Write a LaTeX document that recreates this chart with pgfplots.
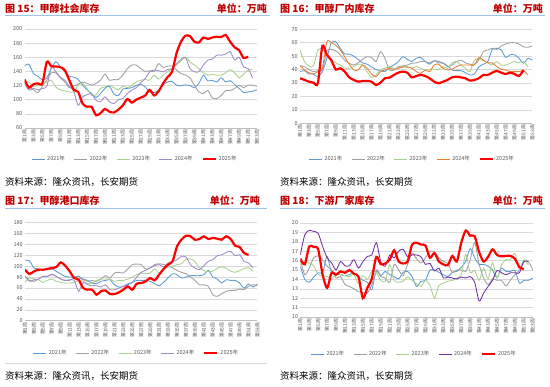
\documentclass[border=0pt]{standalone}
\usepackage{fontspec}
\setmainfont{Noto Sans CJK SC}
\usepackage{pgfplots}
\pgfplotsset{compat=1.18}
\usepackage{pgfplotstable}

\definecolor{c21}{RGB}{91,155,213}
\definecolor{c22}{RGB}{160,160,160}
\definecolor{c23}{RGB}{169,209,142}
\definecolor{c24p}{RGB}{158,140,200}
\definecolor{c24o}{RGB}{237,125,49}
\definecolor{c24d}{RGB}{112,48,160}
\definecolor{titlered}{RGB}{192,0,0}
\definecolor{sepblue}{RGB}{157,195,230}
\definecolor{ticktext}{RGB}{89,89,89}

\pgfplotstableread{
w a21 a22 a23 a24 a25
1 148 125 126 123 128.6
2 150 119 125 113.5 117
3 137 114 119 116 122
4 133 110 120.5 114 123
5 128 119 122 116 123
6 131 128 125 119 153.6
7 144 138 127.6 146.5 147.5
8 153.6 138 118 139.5 147
9 146.5 131 114 132 146
10 139.5 125 112.5 127.6 142
11 133 117 111 119 128
12 132 119 111 112.5 114
13 128.6 122 120.5 92 111
14 120.5 125 123 104 94.5
15 114 123 116 107 90
16 108.7 120.5 106 108.7 90
17 103 123 107 99 78
18 108.7 127.6 116 97 81
19 116 136 118 104 87
20 119 127.6 120.5 97 83
21 108 128.5 117 94.5 82
22 106 128.5 114 100 86
23 115 135 119 101.6 92
24 116 144 117 108.7 101
25 117 149 120.5 113.5 96
26 120 149 125 117 100
27 122 144 127.6 124 103
28 118 140 128.5 130 106
29 111 141 127.6 139.5 114
30 110 140 134.7 142 106
31 113 151 129 141 112
32 121 145.6 134.7 139.5 123
33 125 147.5 139.5 142.7 132
34 126 147.5 144 144 139.5
35 120.5 142 149 151 165.5
36 120 137 154.6 157 182
37 121 135 160 160 190.5
38 120 131 153.6 144 190
39 117 120.5 149 139.5 182
40 123 111 144 139.5 181
41 134.7 108.7 138 149 188
42 126.7 113 134.7 156 186
43 127.6 102.5 135.7 157.4 188
44 125 101.6 134.7 163 189
45 131 106 134.7 163 188.6
46 125 113 138 164.5 191.5
47 127 113 142.7 168 182
48 121.5 116 138 156 174
49 116 120.5 131 160 170
50 110 117 136 146.5 159
51 111 120.5 142 144 161
52 112 120.5 143 131 nan
53 114 119 nan nan nan
}\tabA

\pgfplotstableread{
w a21 a22 a23 a24 a25
1 38.5 43 54.6 42.7 33.5
2 39.2 42 46 39.7 32.3
3 36.7 40 42.7 37.7 31
4 36.7 38.5 42.7 36.7 30.3
5 34.7 39.2 54.6 38.5 29.8
6 38.5 39.7 55 41 57.6
7 48.4 54 52 60.8 51
8 60 55 47 60 47
9 60.8 54 45 58.3 40
10 55.8 51 43.4 54.6 41
11 51.6 47 41 49.6 38.5
12 51.6 44.7 41 44 34.2
13 50 43.4 42.2 39.7 32.3
14 47.6 45 44 39.7 31
15 45 47.6 43.4 43.4 31.5
16 44 49.6 38.5 41 31.5
17 42 49 34.2 36.7 31
18 40 46 36 34.7 28.5
19 39.2 53.3 39.7 38.5 30.3
20 38.5 48.4 41 39.7 33.5
21 41.7 39.7 42.2 41 34
22 43.4 39.7 41 40.2 36
23 46 42.2 41 41 37.7
24 49.6 42.7 41.7 42.2 38.5
25 47.6 43.4 42.2 41.7 37.7
26 46 44.7 41 41 34.2
27 48.4 45 42.2 38.5 35.2
28 49 46 41 37.2 36
29 46 46 39.7 39.7 35.2
30 44 45 40.2 38.5 33.5
31 46.6 46.6 40.2 43.4 31
32 46 45 40.2 44 29.8
33 45 44.7 42.2 41 31
34 42.7 42.2 41 39.7 32.3
35 39.7 43.4 45 40.2 34.2
36 39.2 46 46 42.2 34.7
37 39.2 47 43.4 43.4 34.2
38 37.7 45 41 43.4 33.5
39 36 44 38.5 43.4 31.8
40 36.7 44 47 43.4 32.3
41 42 47 47.6 49 33.5
42 44 53.3 46.6 47 36
43 46 54.6 45 45 36
44 55 55.8 43.4 45 37.7
45 55.8 55 46 42.2 39
46 54.6 57.6 43.4 40.2 37.7
47 49 59 43.4 39.7 36.7
48 51 60 44.7 38.5 37.7
49 51 60 46 38.5 36.7
50 48.4 59 45 38.5 35.2
51 44.7 57 46 39.2 39.7
52 48.4 56.6 42.2 36 nan
53 47 57.6 nan nan nan
}\tabB

\pgfplotstableread{
w a21 a22 a23 a24 a25
1 111 81.4 70.4 82.7 93.7
2 110 74 78.4 72.3 85.7
3 96.8 72.3 76.5 75.3 90.6
4 95 76.5 75.3 76.5 93.7
5 93.7 81.4 70.4 81.4 93.7
6 93.7 81.4 74 81.4 95
7 95 84.5 76.5 85.7 96.8
8 90.6 81.4 72.3 81.4 98.6
9 85.7 76.5 70.4 76.5 107
10 81.4 74 69.2 74 101
11 80.2 74 69.2 75.3 90.6
12 80.2 78.4 70.4 74 78.4
13 81.4 78.4 74 53.9 75.3
14 76.5 75.3 72.3 70.4 60
15 74 72.3 68 66 57
16 69.2 74 69.2 64.3 57
17 68 72.3 74 64.3 47.8
18 72.3 76.5 76.5 61.8 54
19 74 82.7 76.5 66 55.7
20 75.3 78.4 76.5 57 49
21 66 87.6 72.3 57 49
22 61.8 88.8 74 60 52
23 63 87.6 74 63 57
24 66 95 76.5 68 63
25 70.4 103 80.2 70.4 57
26 74 104 84.5 80.2 68
27 74 103 87.6 88.8 69.2
28 74 95 86.3 92.5 72.3
29 72.3 96.8 87.6 96.8 78.4
30 68 103 95 101 74
31 64.3 104.7 87.6 103 84.5
32 70.4 103 95 98.6 95
33 78.4 101 98.6 106 103
34 86.3 96.8 99.8 109 109
35 84.5 92.5 103 112 136.6
36 78.4 88.8 104.7 118 148.8
37 80.2 86.3 113.3 117 156
38 82.7 80.2 113.3 103 155
39 82.7 74 109 96.8 148.8
40 82.7 66 97 93.7 150
41 84.5 66 92 101 155
42 92.5 63 90 109 150
43 80.2 47.8 91 112 152
44 76.5 44.7 96 119.4 150.6
45 69.2 49.6 99 121 148.8
46 75.3 53.9 96 125.5 155
47 74 55.7 91 127.4 150
48 74 55.7 89 119.4 137.8
49 69.2 58.2 92 121 135.3
50 60 57 96 109 124.3
51 67.4 63 97 106 121
52 61.8 66 91 96.8 nan
53 68 64.3 nan nan nan
}\tabC

\pgfplotstableread{
w a21 a22 a23 a24 a25
1 15.4 16.1 15.55 16.6 16.2
2 14.0 14.5 15.9 18.75 15.6
3 13.7 15.2 15.75 19.2 17.5
4 14.25 16.3 15.45 19.1 17.45
5 14.7 16.5 14.5 18.9 17.2
6 14.75 16.1 14.4 17.5 14.5
7 16.45 15.4 14.3 16.3 13.1
8 14.7 15.0 14.05 15.75 14.7
9 14.6 14.15 14.6 15.0 14.5
10 14.5 14.3 14.5 15.9 14.85
11 14.4 13.45 14.4 15.45 14.7
12 14.5 13.25 14.3 15.45 15.0
13 14.7 13.0 14.5 16.1 14.6
14 14.25 12.7 13.55 15.2 14.3
15 13.9 12.6 14.4 15.9 12.0
16 13.7 12.55 14.0 16.45 13.1
17 12.9 13.45 14.85 16.6 14.1
18 15.0 14.85 14.7 17.9 16.4
19 14.4 14.3 13.9 15.9 15.6
20 14.85 14.15 13.8 15.4 15.7
21 14.5 13.7 15.55 16.6 16.1
22 14.3 15.6 13.9 16.3 17.1
23 14.05 15.0 13.7 17.0 15.9
24 14.75 14.4 13.8 17.2 15.7
25 14.85 15.6 14.25 16.4 15.9
26 14.3 16.8 13.9 16.6 17.7
27 13.25 16.2 13.55 16.6 17.9
28 13.8 15.75 13.25 16.4 17.7
29 13.9 16.3 13.9 15.6 17.6
30 15.0 17.0 13.35 15.7 16.3
31 15.0 16.9 12.0 14.9 16.8
32 14.75 16.3 13.35 15.2 15.9
33 14.5 15.9 13.6 14.15 15.6
34 14.3 15.7 13.8 14.25 15.5
35 14.75 14.75 13.9 14.15 16.5
36 14.85 15.0 14.15 14.05 15.9
37 15.3 15.0 14.5 14.25 17.9
38 15.9 14.85 16.65 14.15 19.2
39 17.3 16.1 14.75 14.3 18.65
40 16.3 17.9 14.95 13.7 18.6
41 15.6 15.6 13.9 11.7 16.9
42 15.6 14.15 15.2 12.55 15.9
43 15.4 13.45 14.05 13.25 16.4
44 15.0 14.05 15.75 13.9 17.2
45 14.15 13.9 14.15 14.95 16.6
46 15.2 13.9 15.55 14.7 16.45
47 14.85 13.3 16.1 14.5 16.5
48 14.85 13.9 16.1 14.7 16.5
49 14.95 14.5 16.75 14.7 16.2
50 13.6 15.0 15.1 14.7 15.3
51 13.9 15.9 16.1 15.9 15.1
52 13.9 15.9 15.55 15.9 nan
53 14.15 15.0 nan nan nan
}\tabD

\pgfplotsset{
  panel/.style={
    scale only axis, width=232.5pt,
    xmin=1, xmax=53,
    axis x line*=bottom, axis y line*=left,
    x axis line style={draw=gray!50,-},
    y axis line style={draw=none},
    major tick length=0pt,
    ymajorgrids, grid style={draw=gray!30, line width=0.5pt},
    xtick={1,3,...,53},
    xticklabels={第1周,第3周,第5周,第7周,第9周,第11周,第13周,第15周,第17周,第19周,第21周,第23周,第25周,第27周,第29周,第31周,第33周,第35周,第37周,第39周,第41周,第43周,第45周,第47周,第49周,第51周,第53周},
    xticklabel style={rotate=90, anchor=east, font=\fontsize{4.9}{5.5}\selectfont, text=ticktext, inner sep=1.5pt},
    yticklabel style={font=\fontsize{5.5}{6.5}\selectfont, text=ticktext, inner sep=2pt},
    /pgf/number format/assume math mode=true,
    legend columns=5,
    legend style={draw=none, fill=none, font=\fontsize{5.5}{6.5}\selectfont, text=ticktext, anchor=center,
      /tikz/every even column/.append style={column sep=7pt}},
    legend image code/.code={\draw[#1] (0pt,0pt) -- (13pt,0pt);},
    every axis plot/.append style={smooth, tension=0.45, line width=0.85pt},
  },
  red25/.style={red, line width=2.2pt},
}

\begin{document}
\begin{tikzpicture}
\path[use as bounding box, fill=white] (0pt,0pt) rectangle (550pt,387pt);

% ---------- Panel 1 ----------
\node[anchor=west, text=titlered, font=\bfseries\fontsize{10}{12}\selectfont, inner sep=0] at (5pt,378.7pt) {图 15：甲醇社会库存};
\node[anchor=east, text=titlered, font=\bfseries\fontsize{10}{12}\selectfont, inner sep=0] at (267pt,378.7pt) {单位：万吨};
\draw[sepblue, line width=0.8pt] (5pt,372pt) -- (270pt,372pt);
\node[anchor=west, font=\fontsize{9.5}{11}\selectfont, inner sep=0] at (5pt,205pt) {资料来源：隆众资讯，长安期货};
\begin{axis}[panel, at={(24.5pt,259pt)}, anchor=south west, height=99pt,
  ymin=60, ymax=200, ytick={60,80,...,200},
  legend style={at={(0.475,-0.313)}}]
\addplot[c21] table[x=w,y=a21] {\tabA};
\addplot[c22] table[x=w,y=a22] {\tabA};
\addplot[c23] table[x=w,y=a23] {\tabA};
\addplot[c24p] table[x=w,y=a24] {\tabA};
\addplot[red25] table[x=w,y=a25] {\tabA};
\legend{2021年,2022年,2023年,2024年,2025年}
\end{axis}

% ---------- Panel 2 ----------
\node[anchor=west, text=titlered, font=\bfseries\fontsize{10}{12}\selectfont, inner sep=0] at (280pt,378.7pt) {图 16：甲醇厂内库存};
\node[anchor=east, text=titlered, font=\bfseries\fontsize{10}{12}\selectfont, inner sep=0] at (543pt,378.7pt) {单位：万吨};
\draw[sepblue, line width=0.8pt] (280pt,372pt) -- (545pt,372pt);
\node[anchor=west, font=\fontsize{9.5}{11}\selectfont, inner sep=0] at (280pt,205pt) {资料来源：隆众资讯，长安期货};
\begin{axis}[panel, at={(300pt,263.7pt)}, anchor=south west, height=94pt,
  ymin=0, ymax=70, ytick={0,10,...,70},
  legend style={at={(0.483,-0.38)}}]
\addplot[c21] table[x=w,y=a21] {\tabB};
\addplot[c22] table[x=w,y=a22] {\tabB};
\addplot[c23] table[x=w,y=a23] {\tabB};
\addplot[c24o] table[x=w,y=a24] {\tabB};
\addplot[red25] table[x=w,y=a25] {\tabB};
\legend{2021年,2022年,2023年,2024年,2025年}
\end{axis}

% ---------- Panel 3 ----------
\node[anchor=west, text=titlered, font=\bfseries\fontsize{10}{12}\selectfont, inner sep=0] at (5pt,186pt) {图 17：甲醇港口库存};
\node[anchor=east, text=titlered, font=\bfseries\fontsize{10}{12}\selectfont, inner sep=0] at (260pt,186pt) {单位：万吨};
\draw[sepblue, line width=0.8pt] (5pt,179pt) -- (267pt,179pt);
\draw[gray!30, line width=0.5pt] (5pt,24pt) -- (267pt,24pt);
\node[anchor=west, font=\fontsize{9.5}{11}\selectfont, inner sep=0] at (5pt,11pt) {资料来源：隆众资讯，长安期货};
\begin{axis}[panel, at={(25pt,66.3pt)}, anchor=south west, height=98pt,
  ymin=0, ymax=180, ytick={0,20,...,180},
  legend style={at={(0.48,-0.33)}}]
\addplot[c21] table[x=w,y=a21] {\tabC};
\addplot[c22] table[x=w,y=a22] {\tabC};
\addplot[c23] table[x=w,y=a23] {\tabC};
\addplot[c24p] table[x=w,y=a24] {\tabC};
\addplot[red25] table[x=w,y=a25] {\tabC};
\legend{2021年,2022年,2023年,2024年,2025年}
\end{axis}

% ---------- Panel 4 ----------
\node[anchor=west, text=titlered, font=\bfseries\fontsize{10}{12}\selectfont, inner sep=0] at (280pt,186pt) {图 18：下游厂家库存};
\node[anchor=east, text=titlered, font=\bfseries\fontsize{10}{12}\selectfont, inner sep=0] at (543pt,186pt) {单位：万吨};
\draw[sepblue, line width=0.8pt] (280pt,179pt) -- (545pt,179pt);
\node[anchor=west, font=\fontsize{9.5}{11}\selectfont, inner sep=0] at (280pt,11pt) {资料来源：隆众资讯，长安期货};
\begin{axis}[panel, at={(300.3pt,70pt)}, anchor=south west, height=94pt,
  ymin=10, ymax=20, ytick={10,11,...,20},
  legend style={at={(0.49,-0.394)}}]
\addplot[c21] table[x=w,y=a21] {\tabD};
\addplot[c22] table[x=w,y=a22] {\tabD};
\addplot[c23] table[x=w,y=a23] {\tabD};
\addplot[c24d] table[x=w,y=a24] {\tabD};
\addplot[red25] table[x=w,y=a25] {\tabD};
\legend{2021年,2022年,2023年,2024年,2025年}
\end{axis}
\end{tikzpicture}
\end{document}
